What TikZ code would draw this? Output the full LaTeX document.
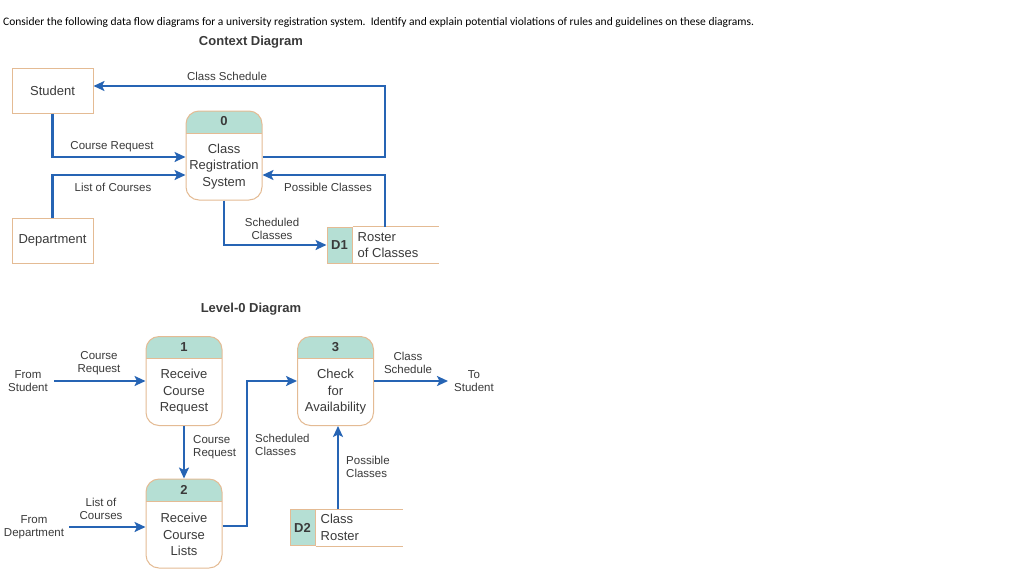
\documentclass[tikz,border=0pt]{standalone}
\usepackage{fontspec}
\setmainfont{Liberation Sans}
\newfontfamily\notefont{Carlito}
\usetikzlibrary{arrows.meta}
\definecolor{boxline}{RGB}{228,187,148}
\definecolor{hdrfill}{RGB}{181,223,212}
\definecolor{flowblue}{RGB}{38,100,180}
\definecolor{txtgray}{RGB}{58,58,58}

\begin{document}
\begin{tikzpicture}[x=1pt,y=-1pt,>={Stealth[length=11pt,width=10pt,inset=2.5pt]},
  flow/.style={->,draw=flowblue,line width=2.3pt},
  ent/.style={draw=boxline,line width=1pt,fill=white,minimum width=81pt,minimum height=45pt,
    text=txtgray,font=\fontsize{13}{16}\selectfont},
  proc/.style={draw=boxline,line width=1pt,fill=white,rounded corners=13pt,inner sep=0pt,
    minimum width=76pt,minimum height=89pt,
    path picture={\fill[hdrfill,sharp corners] (path picture bounding box.north west) rectangle
      ([yshift=-22pt]path picture bounding box.north east);
      \draw[boxline,line width=1pt,sharp corners] ([yshift=-22pt]path picture bounding box.north west) --
      ([yshift=-22pt]path picture bounding box.north east);}},
  pnum/.style={text=txtgray,font=\fontsize{13}{16}\selectfont\bfseries,inner sep=0pt},
  ptxt/.style={text=txtgray,font=\fontsize{13}{16.5}\selectfont,align=center,inner sep=0pt},
  sid/.style={draw=boxline,line width=1pt,fill=hdrfill,minimum width=25pt,minimum height=36pt,
    inner sep=0pt,text=txtgray,font=\fontsize{13}{16}\selectfont\bfseries},
  stxt/.style={anchor=west,text=txtgray,font=\fontsize{13}{16.5}\selectfont,align=left,inner sep=0pt},
  lbl/.style={text=txtgray,font=\fontsize{11.5}{13}\selectfont,align=center,inner sep=0pt},
  ttl/.style={text=txtgray,font=\fontsize{13}{16}\selectfont\bfseries}]
\useasboundingbox[fill=white] (0,0) rectangle (1024,576);

\node[anchor=west,inner sep=3pt,font=\notefont\fontsize{11.5}{13}\selectfont] (note) at (0,22.5)
  {Consider the following data flow diagrams for a university registration system.\ \ Identify and explain potential violations of rules and guidelines on these diagrams.};

% context diagram
\node[ttl] (ctitle) at (251,42.5) {Context Diagram};
\node[ent] (stu) at (52.5,90.5) {Student};
\node[ent] (dep) at (52.5,240.5) {Department};
\node[proc] (p0) at (224,155.5) {};
\node[pnum] (p0num) at ([yshift=-11pt]p0.north) {0};
\node[ptxt] (p0txt) at ([yshift=-11pt]p0.center) {Class\\Registration\\System};
\node[sid] (d1) at (339.5,245) {D1};
\draw[boxline,line width=1pt] (d1.north east) -- ++(86,0) (d1.south east) -- ++(86,0);
\node[stxt] (d1txt) at ([xshift=5pt]d1.east) {Roster\\of Classes};
\coordinate (csturn) at (385,86);

\draw[flow] ([yshift=-1.5pt]p0.east) -| (csturn) -- (stu.east |- csturn);
\draw[flow] (stu.south) |- ([yshift=-1.5pt]p0.west);
\draw[flow] (dep.north) |- ([yshift=-19.5pt]p0.west);
\draw[flow] (d1.north -| csturn) |- ([yshift=-19.5pt]p0.east);
\draw[flow] (p0.south) |- (d1.west);

\node[lbl] (l-cs) at (227,76) {Class Schedule};
\node[lbl] (l-cr) at (112,147) {Course Request};
\node[lbl] (l-lc) at (113,187) {List of Courses};
\node[lbl] (l-pc) at (328,187) {Possible Classes};
\node[lbl] (l-sc) at (272,228.5) {Scheduled\\Classes};

% level-0 diagram
\node[ttl] (ltitle) at (251,309) {Level-0 Diagram};
\node[proc] (p1) at (184,381) {};
\node[pnum] (p1num) at ([yshift=-11pt]p1.north) {1};
\node[ptxt] (p1txt) at ([yshift=-11pt]p1.center) {Receive\\Course\\Request};
\node[proc] (p2) at (184,523.5) {};
\node[pnum] (p2num) at ([yshift=-11pt]p2.north) {2};
\node[ptxt] (p2txt) at ([yshift=-11pt]p2.center) {Receive\\Course\\Lists};
\node[proc] (p3) at (335.5,381) {};
\node[pnum] (p3num) at ([yshift=-11pt]p3.north) {3};
\node[ptxt] (p3txt) at ([yshift=-11pt]p3.center) {Check\\for\\Availability};
\node[sid] (d2) at (302.5,527.5) {D2};
\draw[boxline,line width=1pt] (d2.north east) -- ++(87,0) (d2.south east) -- ++(87,0);
\node[stxt] (d2txt) at ([xshift=5pt]d2.east) {Class\\Roster};

\node[lbl] (fs) at (28,381) {From\\Student};
\node[lbl] (fd) at (34,527) {From\\Department};
\node[lbl] (ts) at (474,381) {To\\Student};
\coordinate (scturn) at (247,381);

\draw[flow] ([xshift=6pt]fs.east) -- (fs.east -| p1.west);
\draw[flow] ([xshift=5pt]fd.east) -- (fd.east -| p2.west);
\draw[flow] (p1.south) -- (p2.north);
\draw[flow] ([yshift=-2.5pt]p2.east) -| (scturn) -- (p3.west);
\draw[flow] (p3.east) -- ([xshift=-6pt]ts.west);
\draw[flow] ([xshift=2.5pt]p3.south |- d2.north) -- ([xshift=2.5pt]p3.south);

\node[lbl] (l-cr1) at (99,363) {Course\\Request};
\node[lbl] (l-lc2) at (101,509) {List of\\Courses};
\node[lbl,anchor=west,align=left] (l-cr2) at (193,447) {Course\\Request};
\node[lbl,anchor=west,align=left] (l-sc2) at (255,445) {Scheduled\\Classes};
\node[lbl] (l-cs3) at (408,363) {Class\\Schedule};
\node[lbl,anchor=west,align=left] (l-pc3) at (346,467) {Possible\\Classes};
\end{tikzpicture}
\end{document}
